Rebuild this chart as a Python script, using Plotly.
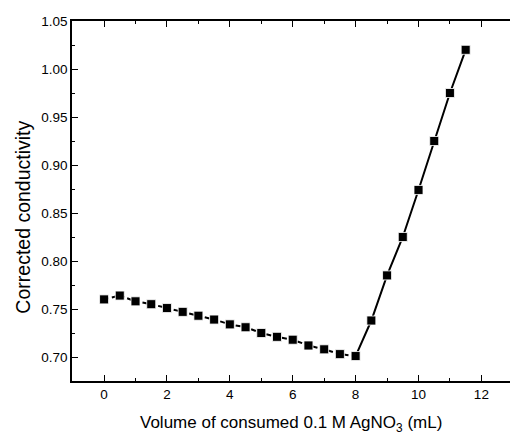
import plotly.graph_objects as go

volume = [0, 0.5, 1, 1.5, 2, 2.5, 3, 3.5, 4, 4.5, 5, 5.5, 6, 6.5, 7, 7.5, 8,
          8.5, 9, 9.5, 10, 10.5, 11, 11.5]
conductivity = [0.760, 0.764, 0.758, 0.755, 0.751, 0.747, 0.743, 0.739, 0.734,
                0.731, 0.725, 0.721, 0.718, 0.712, 0.708, 0.703, 0.701,
                0.738, 0.785, 0.825, 0.874, 0.925, 0.975, 1.020]
break_x = 8
x_title = "Volume of consumed 0.1 M AgNO<sub>3</sub> (mL)"
y_title = "Corrected conductivity"

i_break = volume.index(break_x)
fig = go.Figure()
fig.add_trace(go.Scatter(x=volume[:i_break + 1], y=conductivity[:i_break + 1],
                         mode="lines", line=dict(color="black", width=2, dash="5px,3px"),
                         showlegend=False, hoverinfo="skip"))
fig.add_trace(go.Scatter(x=volume[i_break:], y=conductivity[i_break:],
                         mode="lines", line=dict(color="black", width=2),
                         showlegend=False, hoverinfo="skip"))
fig.add_trace(go.Scatter(x=volume, y=conductivity, mode="markers",
                         marker=dict(symbol="square", size=9, color="black",
                                     line=dict(color="white", width=0.8)),
                         showlegend=False))

font = "Liberation Sans, Arial, sans-serif"
fig.update_layout(
    width=510, height=437,
    margin=dict(l=72, r=0, t=21, b=56),
    plot_bgcolor="white", paper_bgcolor="white",
    font=dict(family=font, color="black", size=13.5),
    xaxis=dict(range=[-1.02, 12.91], tickmode="array", tickvals=[0, 2, 4, 6, 8, 10, 12],
               ticks="inside", ticklen=6, tickwidth=1.2, tickcolor="black",
               minor=dict(ticks="inside", ticklen=3, dtick=1, tick0=0, tickcolor="black"),
               showline=True, linecolor="black", linewidth=1.5, mirror="ticks",
               showgrid=False, zeroline=False),
    yaxis=dict(range=[0.675, 1.05], tickmode="array",
               tickvals=[0.70, 0.75, 0.80, 0.85, 0.90, 0.95, 1.00, 1.05],
               tickformat=".2f",
               ticks="inside", ticklen=6, tickwidth=1.2, tickcolor="black",
               minor=dict(ticks="inside", ticklen=3, dtick=0.025, tick0=0.7, tickcolor="black"),
               showline=True, linecolor="black", linewidth=1.5,
               showgrid=False, zeroline=False),
    annotations=[
        dict(text=x_title, xref="paper", yref="paper", x=0.5, y=-0.119,
             xanchor="center", yanchor="middle", showarrow=False,
             font=dict(size=17)),
        dict(text=y_title, xref="paper", yref="paper", x=-0.114, y=0.454,
             xanchor="center", yanchor="middle", textangle=-90, showarrow=False,
             font=dict(size=19.5)),
    ],
)
fig.write_html("out.html")
